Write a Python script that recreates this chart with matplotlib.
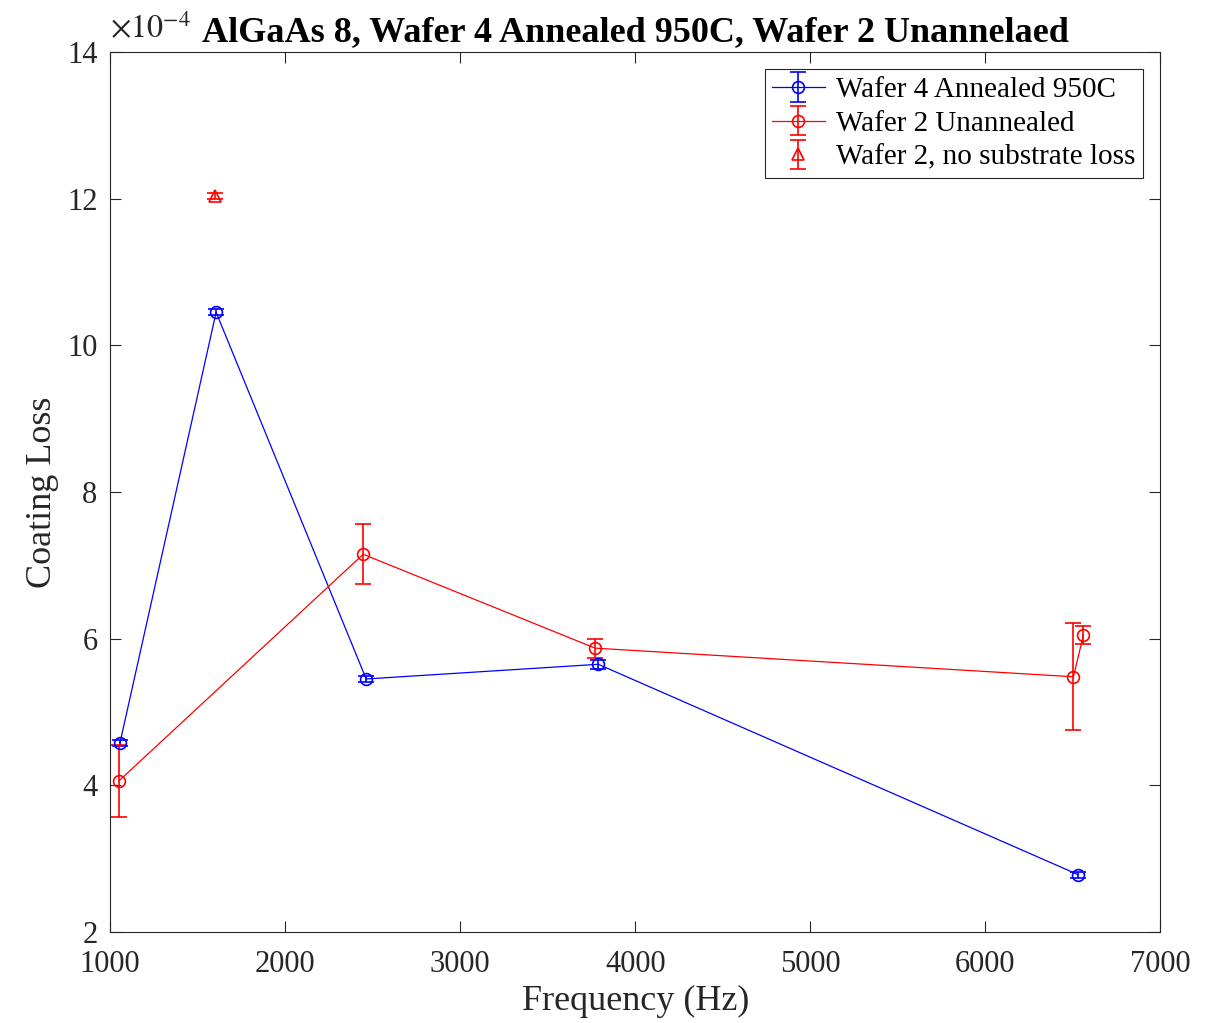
import numpy as np
import matplotlib
matplotlib.use("Agg")
import matplotlib.pyplot as plt

plt.rcParams['font.family'] = ['Liberation Serif', 'DejaVu Serif']
plt.rcParams['mathtext.fontset'] = 'stix'

# data (coating loss in units of 1e-4)
freq_w4 = [1057, 1606, 2463, 3789, 6531]
loss_w4 = [4.58, 10.45, 5.45, 5.65, 2.78]
err_w4 = [0.04, 0.04, 0.04, 0.06, 0.04]

freq_w2 = [1051, 2446, 3771, 6503, 6560]
loss_w2 = [4.06, 7.15, 5.87, 5.48, 6.05]
err_w2 = [0.49, 0.41, 0.13, 0.73, 0.12]

freq_w2_nosub = [1600]
loss_w2_nosub = [12.03]
err_w2_nosub = [0.04]

scale = 1e-4

fig = plt.figure(figsize=(12.28, 10.23), dpi=100)
ax = fig.add_axes([0.0896, 0.0890, 0.8554, 0.8602])

ax.errorbar(freq_w4, np.array(loss_w4) * scale, yerr=np.array(err_w4) * scale,
            color='blue', marker='o', mfc='none', ms=8.5, mew=1.2, lw=0.9,
            capsize=6, elinewidth=1.2, label='Wafer 4 Annealed 950C')
ax.errorbar(freq_w2, np.array(loss_w2) * scale, yerr=np.array(err_w2) * scale,
            color='red', marker='o', mfc='none', ms=8.5, mew=1.2, lw=0.9,
            capsize=6, elinewidth=1.2, label='Wafer 2 Unannealed')
ax.errorbar(freq_w2_nosub, np.array(loss_w2_nosub) * scale,
            yerr=np.array(err_w2_nosub) * scale,
            color='red', marker='^', mfc='none', ms=8, mew=1.2, lw=0,
            capsize=6, elinewidth=1.2, label='Wafer 2, no substrate loss')

ax.set_xlim(1000, 7000)
ax.set_ylim(2e-4, 14e-4)
ax.set_xticks(np.arange(1000, 7001, 1000))
yt = np.arange(2, 15, 2)
ax.set_yticks(yt * scale)
ax.set_yticklabels([str(v) for v in yt])
ax.text(0.0, 1.008, r'$\times 10^{\mathrm{-4}}$', transform=ax.transAxes,
        fontsize=23, color='#262626', ha='left', va='bottom')

ax.tick_params(direction='in', top=True, right=True, labelsize=22,
               colors='#262626', length=8, width=0.8)
ax.tick_params(axis='x', pad=13)
ax.tick_params(axis='y', pad=9)
for s in ax.spines.values():
    s.set_color('#262626')
    s.set_linewidth(0.8)

ax.set_xlabel('Frequency (Hz)', fontsize=26, color='#262626', labelpad=4)
ax.set_ylabel('Coating Loss', fontsize=26, color='#262626', labelpad=6)
ax.set_title('AlGaAs 8, Wafer 4 Annealed 950C, Wafer 2 Unannelaed',
             fontsize=26, fontweight='bold', x=0.5, pad=8)

leg = ax.legend(loc='upper right', fontsize=21, fancybox=False, framealpha=1,
                edgecolor='#262626', borderaxespad=0.6, handlelength=1.8,
                handletextpad=0.4, borderpad=0.25, labelspacing=0.25)
leg.get_frame().set_linewidth(0.8)

fig.savefig('out.png', dpi=100)
